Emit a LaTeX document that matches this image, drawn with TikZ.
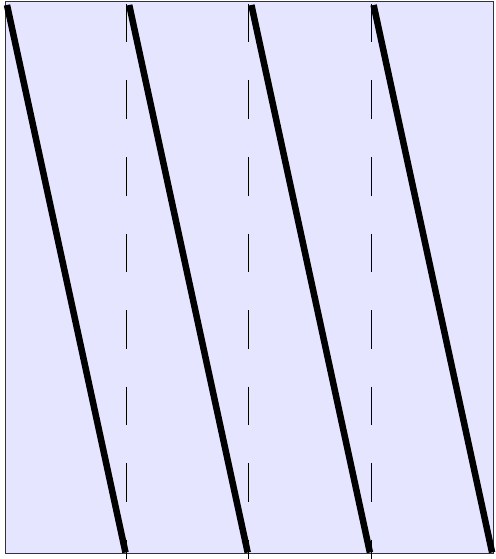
\documentclass[tikz,border=0pt]{standalone}
\usepackage{tikz}
\usetikzlibrary{calc}
\tikzset{
	tiltline/.style={line width=6.5pt, black}
}
\tikzset{
	guideline/.style={line width=0.8pt, black, dash pattern=on 38.5pt off 38pt}
}

\begin{document}
\begin{tikzpicture}[x=1pt, y=-1pt]
      \useasboundingbox (0,0) rectangle (495,559);

      % shaded panel
      \draw[fill=blue!10, draw=black!80, line width=0.8pt] (5.5,1.5) rectangle (493,553);

      % vertical guides under the lower ends
      \foreach \k in {0,1,2} {
        \draw[guideline] ({126+122.5*\k},4) -- ({126+122.5*\k},559);
      }

      % slanted thick strokes
      \foreach \k in {0,1,2,3} {
        \coordinate (top\k) at ({7+122.2*\k},5);
        \coordinate (bot\k) at ({125.5+122.2*\k},552.5);
        \draw[tiltline] (top\k) -- (bot\k);
      }
    \end{tikzpicture}
\end{document}
